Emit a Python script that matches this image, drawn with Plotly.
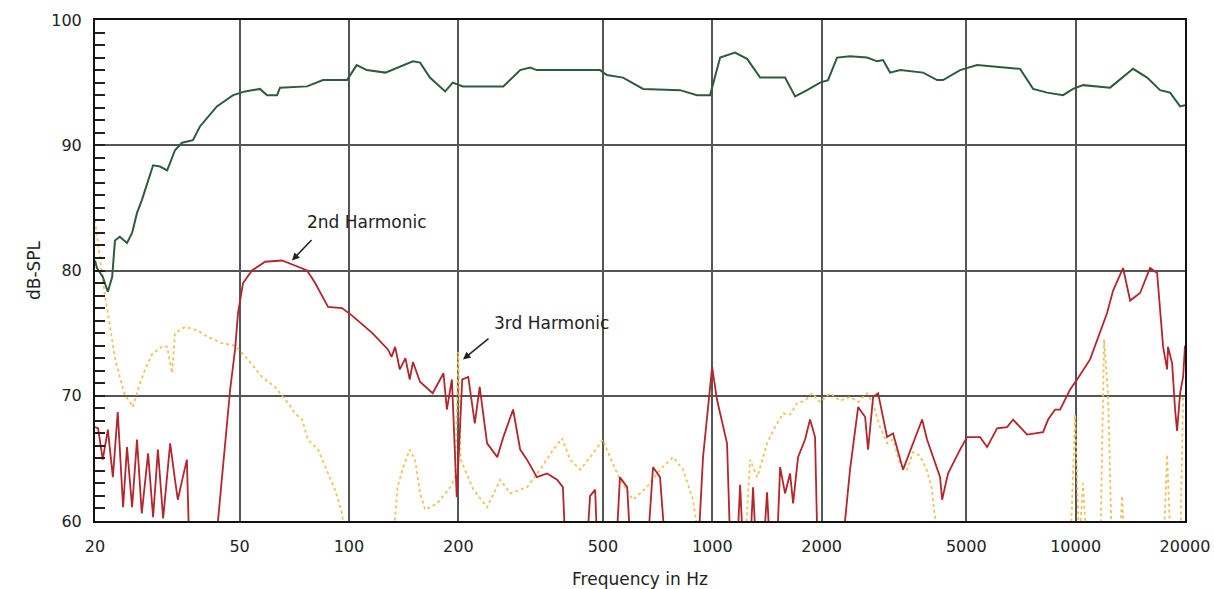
import math
import plotly.graph_objects as go

# ---- data (frequency in Hz, level in dB-SPL) ----
fund_f = [20, 20.25, 21.0, 21.7, 22.3, 22.7, 23.4, 24.5, 25.3, 26.1, 26.9, 28.9, 30.2, 31.6,
          33.2, 34.7, 37.2, 38.9, 43.3, 48, 51.8, 56.9, 59.5, 63.4, 64.6, 76.7, 84.8, 98.8,
          105, 112, 126, 150, 157, 167, 184, 193, 206, 266, 296, 315, 329, 491, 513, 568,
          645, 815, 908, 986, 1051, 1155, 1247, 1354, 1586, 1690, 1824, 1980, 2082, 2205,
          2394, 2667, 2843, 2951, 3086, 3289, 3804, 4157, 4317, 4808, 5356, 6314, 7034,
          7638, 8346, 9236, 9840, 10484, 12444, 14392, 15730, 17078, 18197, 19388, 20000]
fund_db = [80.8, 80.2, 79.5, 78.3, 79.5, 82.4, 82.7, 82.2, 83.0, 84.6, 85.6, 88.4, 88.3, 88.0,
           89.6, 90.2, 90.4, 91.5, 93.1, 94.0, 94.3, 94.5, 94.0, 94.0, 94.6, 94.7, 95.2, 95.2,
           96.4, 96.0, 95.8, 96.7, 96.6, 95.4, 94.3, 95.0, 94.7, 94.7, 96.0, 96.2, 96.0, 96.0,
           95.6, 95.4, 94.5, 94.4, 94.0, 94.0, 97.0, 97.4, 96.9, 95.4, 95.4, 93.9, 94.4, 95.0,
           95.2, 97.0, 97.1, 97.0, 96.7, 96.8, 95.8, 96.0, 95.8, 95.2, 95.2, 96.0, 96.4, 96.2,
           96.1, 94.5, 94.2, 94.0, 94.5, 94.8, 94.6, 96.1, 95.4, 94.4, 94.2, 93.1, 93.2]

h2_f = [20, 20.4, 21.0, 21.7, 22.4, 23.1, 23.9, 24.5, 25.3, 26.1, 26.9, 28.0, 28.9, 29.8,
        30.8, 32.2, 33.2, 33.8, 34.9, 35.8, 36.5, 42.8, 43.6, 45.6, 47.1, 48.6, 49.5, 51.1,
        54.1, 58.8, 65.4, 71.0, 76.7, 80.7, 87.6, 95.7, 102, 116, 128, 131, 134, 138, 143,
        147, 150, 157, 170, 182, 186, 192, 198, 205, 213, 222, 229, 240, 256, 266, 283,
        296, 309, 329, 351, 374, 388, 392, 406,
        447, 461, 476, 485,
        540, 557, 583, 601,
        657, 687, 718, 751,
        908, 943, 999, 1030, 1098, 1126,
        1163, 1193, 1223,
        1262, 1295, 1328,
        1371, 1415, 1451,
        1498, 1537, 1586, 1637, 1669, 1722, 1800, 1858, 1918, 1954,
        2248, 2394, 2520, 2634, 2684, 2771, 2860, 3028, 3144, 3350, 3570, 3780, 3900,
        4236, 4290, 4456, 4808, 5026, 5458, 5706, 6080, 6476, 6728, 7352, 8136, 8400,
        8778, 9064, 9656, 10094, 10960, 11460, 12206, 12680, 13508, 14126, 15046, 16030,
        16760, 17410, 17856, 17960, 18430, 18780, 19020, 19388, 19760, 20000]
h2_db = [67.5, 67.4, 64.9, 67.3, 63.5, 68.7, 61.1, 65.9, 61.1, 66.5, 60.6, 65.4, 60.3, 65.7,
         60.2, 66.2, 63.3, 61.7, 63.5, 64.9, 56.0, 56.0, 60.0, 65.9, 70.5, 73.7, 76.6, 79.0,
         80.0, 80.7, 80.8, 80.4, 80.0, 79.0, 77.1, 77.0, 76.4, 75.0, 73.7, 73.1, 73.9, 72.1, 73.0,
         71.3, 72.7, 71.1, 70.2, 71.8, 68.9, 71.3, 61.9, 71.3, 71.5, 67.8, 70.7, 66.2, 65.1, 66.7, 68.9,
         65.7, 64.9, 63.5, 63.8, 63.3, 62.7, 59.6, 56.0,
         56.0, 62.0, 62.5, 56.0,
         56.0, 63.5, 62.7, 56.0,
         56.0, 64.3, 63.5, 56.0,
         56.0, 65.1, 72.3, 69.7, 66.2, 56.0,
         56.0, 62.9, 56.0,
         56.0, 62.7, 56.0,
         56.0, 62.3, 56.0,
         56.0, 64.3, 62.2, 63.8, 61.4, 65.1, 66.5, 68.1, 66.7, 56.0,
         56.0, 64.1, 69.1, 68.3, 65.7, 69.9, 70.2, 66.7, 67.0, 64.1, 66.2, 68.1, 66.5,
         63.5, 61.7, 63.8, 65.7, 66.7, 66.7, 65.9, 67.4, 67.5, 68.1, 66.9, 67.1, 68.1,
         68.9, 68.9, 70.5, 71.3, 72.9, 74.5, 76.6, 78.4, 80.2, 77.6, 78.2, 80.2,
         79.8, 73.9, 72.1, 73.9, 72.6, 68.9, 67.2, 70.2, 71.5, 74.0]

h3_f = [20, 20.6, 21.3, 22.0, 22.7, 23.4, 24.2, 25.0, 25.4, 26.6, 27.5, 28.7, 29.8, 30.8,
        31.6, 32.6, 33.2, 35.4, 38.4, 40.9, 44.7, 48.6, 52.7, 57.6, 62.6, 68.0, 71.0, 74.3,
        77.1, 82.2, 87.6, 91.6, 95.7, 98.2,
        132, 136, 141, 147, 152, 157, 162, 175, 190, 196, 200, 203, 220, 240, 261, 278,
        309, 336, 365, 386, 406, 433, 470, 500, 523, 557, 605, 661, 718, 780, 831, 885, 925,
        1231, 1271, 1330, 1415, 1488, 1566, 1637, 1711, 1800, 1882, 1980, 2110, 2248, 2394,
        2520, 2667, 2771, 2896, 3028, 3144, 3289, 3436, 3570, 3732, 3900, 4026, 4078, 4236,
        9656, 9966, 10222, 10484, 10756, 11680, 11978, 12286, 12600, 13170, 13424, 13680,
        17410, 17856, 18312, 19388, 19760]
h3_db = [84.0, 81.0, 78.0, 75.5, 73.0, 71.5, 70.0, 69.5, 69.1, 71.0, 72.1, 73.3, 73.7, 74.0,
         73.9, 71.8, 75.0, 75.5, 75.2, 74.7, 74.2, 74.0, 72.9, 71.5, 70.7, 69.4, 68.6, 68.1,
         66.5, 65.7, 63.8, 62.5, 60.6, 58.0,
         58.0, 62.7, 64.3, 65.7, 64.9, 62.2, 60.9, 61.4, 62.7, 63.5, 73.5, 64.9, 62.5, 61.1,
         63.3, 62.2, 62.7, 64.1, 65.7, 66.6, 64.9, 64.1, 65.4, 66.5, 65.1, 63.3, 61.7, 62.7,
         64.1, 65.1, 64.1, 61.7, 58.0,
         58.0, 64.9, 63.5, 66.2, 67.5, 68.6, 68.5, 69.4, 69.6, 70.2, 69.5, 70.2, 69.6, 69.9,
         69.5, 70.2, 69.3, 67.5, 66.2, 66.5, 64.5, 64.1, 65.5, 65.2, 64.0, 62.5, 60.8, 58.0,
         57.0, 68.5, 58.0, 63.0, 57.0, 57.0, 74.5, 70.0, 57.0, 57.0, 62.0, 57.0,
         57.0, 65.3, 57.0, 57.0, 70.0]

x_ticks = [20, 50, 100, 200, 500, 1000, 2000, 5000, 10000, 20000]
y_ticks = [60, 70, 80, 90, 100]

# annotation anchors (Hz, dB)
h2_label = (112, 83.9)
h2_tip = (69.7, 80.8)
h3_label = (360, 75.8)
h3_tip = (206, 72.9)

FONT = "DejaVu Sans"
TXT = "#222222"
GRID = "#555555"

fig = go.Figure()
fig.add_trace(go.Scatter(x=h3_f, y=h3_db, mode="lines",
                         line=dict(color="#efc25e", width=1.8, dash="dot"),
                         name="3rd Harmonic", showlegend=False))
fig.add_trace(go.Scatter(x=h2_f, y=h2_db, mode="lines",
                         line=dict(color="#b3262d", width=1.8),
                         name="2nd Harmonic", showlegend=False))
fig.add_trace(go.Scatter(x=fund_f, y=fund_db, mode="lines",
                         line=dict(color="#2f5b3d", width=2),
                         name="Fundamental", showlegend=False))

fig.update_xaxes(type="log", range=[math.log10(20), math.log10(20000)],
                 tickvals=x_ticks, ticktext=[str(v) for v in x_ticks],
                 showgrid=True, gridcolor=GRID, gridwidth=1.5,
                 showline=True, linecolor="#111111", linewidth=2, mirror=True,
                 ticks="", ticklabelstandoff=10, zeroline=False, automargin=False,
                 tickfont=dict(family=FONT, size=16, color=TXT),
                 title=dict(text="Frequency in Hz", standoff=18,
                            font=dict(family=FONT, size=17, color=TXT)))
fig.update_yaxes(range=[60, 100], tickvals=y_ticks,
                 showgrid=True, gridcolor=GRID, gridwidth=1.5,
                 showline=True, linecolor="#111111", linewidth=2, mirror=True,
                 ticks="inside", ticklen=10, tickwidth=1.5, tickcolor="#222222",
                 minor=dict(dtick=1, ticks="inside", ticklen=10, tickwidth=1.5,
                            tickcolor="#222222", showgrid=False),
                 ticklabelstandoff=8, zeroline=False, automargin=False,
                 tickfont=dict(family=FONT, size=16, color=TXT),
                 title=dict(text="dB-SPL", standoff=6,
                            font=dict(family=FONT, size=17, color=TXT)))

fig.add_annotation(x=math.log10(h2_label[0]), y=h2_label[1], text="2nd Harmonic",
                   showarrow=False, font=dict(family=FONT, size=17, color=TXT))
fig.add_annotation(x=math.log10(h2_tip[0]), y=h2_tip[1], text="", showarrow=True,
                   ax=21, ay=-22, arrowhead=2, arrowsize=1, arrowwidth=1.5,
                   arrowcolor="#222222")
fig.add_annotation(x=math.log10(h3_label[0]), y=h3_label[1], text="3rd Harmonic",
                   showarrow=False, font=dict(family=FONT, size=17, color=TXT))
fig.add_annotation(x=math.log10(h3_tip[0]), y=h3_tip[1], text="", showarrow=True,
                   ax=27, ay=-22, arrowhead=2, arrowsize=1, arrowwidth=1.5,
                   arrowcolor="#222222")

fig.update_layout(width=1214, height=589,
                  margin=dict(l=95, r=29, t=20, b=68),
                  paper_bgcolor="white", plot_bgcolor="white",
                  showlegend=False)

fig.write_html("out.html", config={"displayModeBar": False},
               post_script="document.body.style.margin='0';")
